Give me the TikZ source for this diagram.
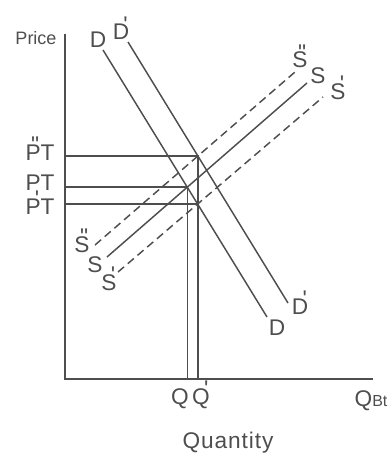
\documentclass[tikz,border=0pt]{standalone}
\usepackage{fontspec}
\setmainfont{Liberation Sans}
\usetikzlibrary{intersections}
\definecolor{ink}{RGB}{78,78,78}
\newcommand\mrk[2]{#1\llap{\raisebox{0.33em}{#2}\kern0.06em}}
\tikzset{
  lbl/.style={text=ink, font=\fontsize{17}{18}\selectfont, inner sep=0pt, anchor=base},
  ln/.style={draw=ink, line width=1.1pt},
  dsh/.style={ln, dash pattern=on 6pt off 3.6pt}
}
\begin{document}
\begin{tikzpicture}[x=0.75pt,y=-0.75pt]
\useasboundingbox (0,0) rectangle (392,453);
% axes
\coordinate (O) at (65,379);
\coordinate (Ytop) at (65,34);
\coordinate (Xend) at (373,379);
\draw[ln] (Ytop) -- (O) -- (Xend);
% demand
\coordinate (D1) at (103,50);  \coordinate (D2) at (267,317);
\coordinate (Dp1) at (128,42); \coordinate (Dp2) at (288,303);
\draw[ln, name path=Dl] (D1) -- (D2);
\draw[ln, name path=Dpl] (Dp1) -- (Dp2);
% supply
\coordinate (Spp1) at (95,245); \coordinate (Spp2) at (295,72);
\coordinate (S1) at (107,257);  \coordinate (S2) at (307,83);
\coordinate (Sp1) at (118,272); \coordinate (Sp2) at (323,97);
\draw[dsh, name path=Sppl] (Spp1) -- (Spp2);
\draw[ln, name path=Sl] (S1) -- (S2);
\draw[dsh, name path=Spl] (Sp1) -- (Sp2);
% equilibria
\path[name intersections={of=Dl and Sl, by=E}];
\path[name intersections={of=Dpl and Sppl, by=Epp}];
\path[name intersections={of=Dl and Spl, by=Ep}];
\draw[ln] (O |- Epp) -- (Epp) -- (Epp |- O);
\draw[ln] (O |- E) -- (E) -- (E |- O);
\draw[ln] (O |- Ep) -- (Ep);
% labels
\node[lbl, font=\fontsize{13.5}{15}\selectfont] (price) at (36,45) {Price};
\node[lbl] (dA) at (98,48) {D};
\node[lbl] (dpA) at (121,40) {\mrk{D}{\textquotesingle}};
\node[lbl] (sppA) at (300,68) {\mrk{S}{\textquotedbl}};
\node[lbl] (sA) at (318,84) {S};
\node[lbl] (spA) at (338,99) {\mrk{S}{\textquotesingle}};
\node[lbl] (ppt) at (40,160) {\mrk{P}{\textquotedbl}T};
\node[lbl] (pt) at (40,190) {PT};
\node[lbl] (pdt) at (40,214) {\mrk{P}{\textquotesingle}T};
\node[lbl] (sppB) at (82,252) {\mrk{S}{\textquotedbl}};
\node[lbl] (sB) at (95,272) {S};
\node[lbl] (spB) at (109,290) {\mrk{S}{\textquotesingle}};
\node[lbl] (dpB) at (300,314) {\mrk{D}{\textquotesingle}};
\node[lbl] (dB) at (277,335) {D};
\node[lbl] (q) at (180,404) {Q};
\node[lbl] (qp) at (201,404) {\mrk{Q}{\textquotesingle}};
\node[lbl] (qbt) at (371,406) {Q{\fontsize{12}{13}\selectfont Bt}};
\node[lbl] (qty) at (228,448) {\addfontfeature{LetterSpace=4}Quantity};
\end{tikzpicture}
\end{document}
